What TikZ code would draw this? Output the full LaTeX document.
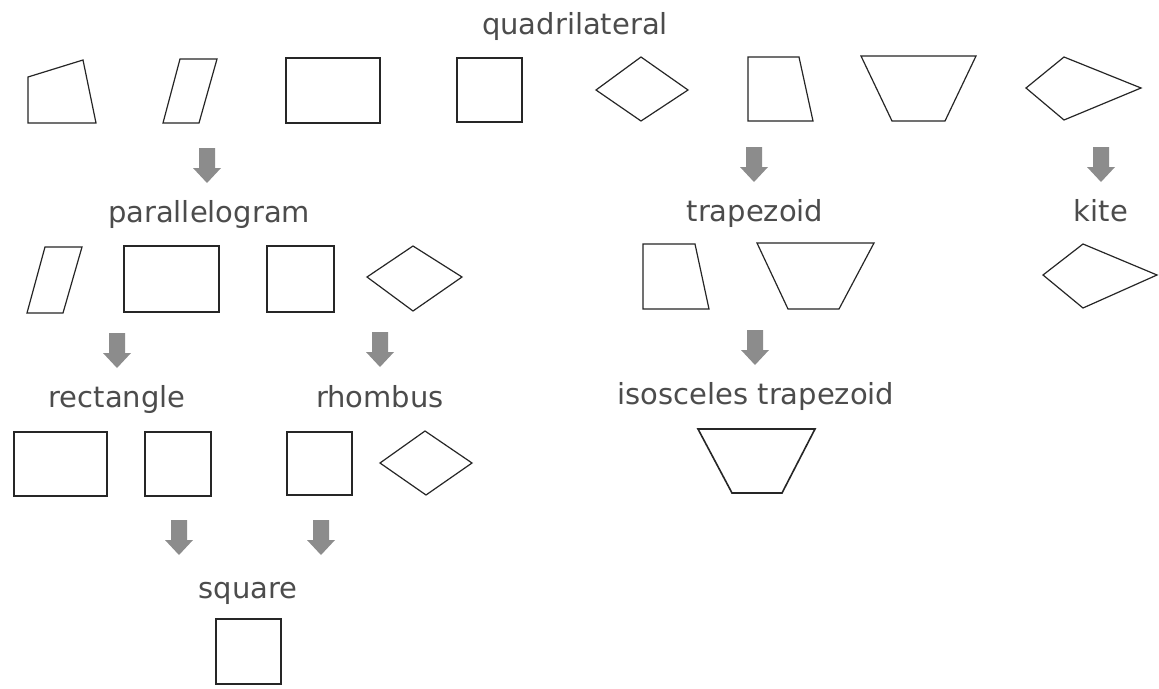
\documentclass[tikz,border=0pt]{standalone}
\usepackage{fontspec}
\setmainfont{DejaVu Sans}
\begin{document}
\begin{tikzpicture}[x=1pt,y=-1pt,
  shp/.style={draw=black!85,line width=1.2pt,line join=miter},
  thickshp/.style={draw=black!85,line width=2.6pt,line join=miter},
  medshp/.style={draw=black!85,line width=1.6pt,line join=miter},
  lbl/.style={anchor=base,inner sep=0pt,text=black!70,font=\fontsize{29}{34}\selectfont},
  blockarrow/.pic={\fill[black!45] (-8,0) -- (8,0) -- (8,20) -- (14,20) -- (0,35) -- (-14,20) -- (-8,20) -- cycle;}
]
\fill[white] (0,0) rectangle (1159,688);
\useasboundingbox (0,0) rectangle (1159,688);

% labels
\node[lbl] (quad) at (575,34) {quadrilateral};
\node[lbl] (para) at (209,222) {parallelogram};
\node[lbl] (trap) at (755,221) {trapezoid};
\node[lbl] (kite) at (1101,221) {kite};
\node[lbl] (rect) at (117,407) {rectangle};
\node[lbl] (rhom) at (380,407) {rhombus};
\node[lbl] (iso) at (756,404) {isosceles trapezoid};
\node[lbl] (sq) at (248,598) {square};

% row 1 shapes
\draw[shp] (28,77) -- (83,60) -- (96,123) -- (28,123) -- cycle;
\draw[shp] (180,59) -- (217,59) -- (199,123) -- (163,123) -- cycle;
\draw[shp] (286,58) rectangle (380,123);
\draw[shp] (457,58) rectangle (522,122);
\draw[shp] (596,90) -- (641,57) -- (688,90) -- (641,121) -- cycle;
\draw[shp] (748,57) -- (799,57) -- (813,121) -- (748,121) -- cycle;
\draw[shp] (861,56) -- (976,56) -- (945,121) -- (892,121) -- cycle;
\draw[shp] (1026,88) -- (1064,57) -- (1141,88) -- (1064,120) -- cycle;

% row 2 shapes
\draw[shp] (45,247) -- (82,247) -- (63,313) -- (27,313) -- cycle;
\draw[shp] (124,246) rectangle (219,312);
\draw[shp] (267,246) rectangle (334,312);
\draw[shp] (367,277) -- (413,246) -- (462,277) -- (413,311) -- cycle;
\draw[shp] (643,244) -- (695,244) -- (709,309) -- (643,309) -- cycle;
\draw[shp] (757,243) -- (874,243) -- (839,309) -- (788,309) -- cycle;
\draw[shp] (1043,275) -- (1083,244) -- (1157,275) -- (1083,308) -- cycle;

% row 3 shapes
\draw[thickshp] (14,432) rectangle (107,496);
\draw[thickshp] (145,432) rectangle (211,496);
\draw[shp] (287,432) rectangle (352,495);
\draw[shp] (380,463) -- (425,431) -- (472,463) -- (426,495) -- cycle;
\draw[medshp] (698,429) -- (815,429) -- (782,493) -- (732,493) -- cycle;

% row 4 shape
\draw[thickshp] (216,619) rectangle (281,684);

% block arrows
\pic at (207,148) {blockarrow};
\pic at (754,147) {blockarrow};
\pic at (1101,147) {blockarrow};
\pic at (117,333) {blockarrow};
\pic at (380,332) {blockarrow};
\pic at (755,330) {blockarrow};
\pic at (179,520) {blockarrow};
\pic at (321,520) {blockarrow};
\end{tikzpicture}
\end{document}
